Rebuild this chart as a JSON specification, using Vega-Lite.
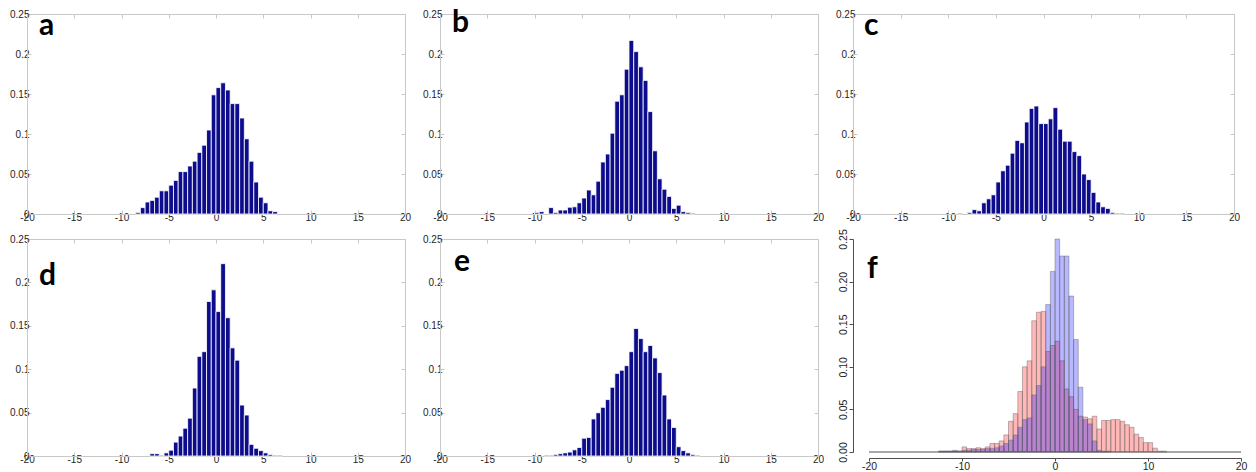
{
  "$schema": "https://vega.github.io/schema/vega-lite/v6.json",
  "background": "white",
  "padding": {"left": 9, "top": 7, "right": 5, "bottom": 0},
  "bounds": "flush",
  "columns": 3,
  "spacing": {"row": 25, "column": 35},
  "datasets": {
    "a": [
      {"lo": -8.5, "hi": -8, "density": 0.002}, {"lo": -8, "hi": -7.5, "density": 0.008},
      {"lo": -7.5, "hi": -7, "density": 0.015}, {"lo": -7, "hi": -6.5, "density": 0.017},
      {"lo": -6.5, "hi": -6, "density": 0.021}, {"lo": -6, "hi": -5.5, "density": 0.029},
      {"lo": -5.5, "hi": -5, "density": 0.029}, {"lo": -5, "hi": -4.5, "density": 0.036},
      {"lo": -4.5, "hi": -4, "density": 0.042}, {"lo": -4, "hi": -3.5, "density": 0.053},
      {"lo": -3.5, "hi": -3, "density": 0.053}, {"lo": -3, "hi": -2.5, "density": 0.06},
      {"lo": -2.5, "hi": -2, "density": 0.066}, {"lo": -2, "hi": -1.5, "density": 0.077},
      {"lo": -1.5, "hi": -1, "density": 0.086}, {"lo": -1, "hi": -0.5, "density": 0.105},
      {"lo": -0.5, "hi": 0, "density": 0.149}, {"lo": 0, "hi": 0.5, "density": 0.158},
      {"lo": 0.5, "hi": 1, "density": 0.164}, {"lo": 1, "hi": 1.5, "density": 0.155},
      {"lo": 1.5, "hi": 2, "density": 0.138}, {"lo": 2, "hi": 2.5, "density": 0.138},
      {"lo": 2.5, "hi": 3, "density": 0.12}, {"lo": 3, "hi": 3.5, "density": 0.094},
      {"lo": 3.5, "hi": 4, "density": 0.066}, {"lo": 4, "hi": 4.5, "density": 0.04},
      {"lo": 4.5, "hi": 5, "density": 0.021}, {"lo": 5, "hi": 5.5, "density": 0.014},
      {"lo": 5.5, "hi": 6, "density": 0.004}, {"lo": 6, "hi": 6.5, "density": 0.003}
    ],
    "b": [
      {"lo": -10, "hi": -9.5, "density": 0.002}, {"lo": -9.5, "hi": -9, "density": 0.003},
      {"lo": -8.5, "hi": -8, "density": 0.008}, {"lo": -8, "hi": -7.5, "density": 0.002},
      {"lo": -7.5, "hi": -7, "density": 0.005}, {"lo": -7, "hi": -6.5, "density": 0.005},
      {"lo": -6.5, "hi": -6, "density": 0.0085}, {"lo": -6, "hi": -5.5, "density": 0.009},
      {"lo": -5.5, "hi": -5, "density": 0.014}, {"lo": -5, "hi": -4.5, "density": 0.02},
      {"lo": -4.5, "hi": -4, "density": 0.03}, {"lo": -4, "hi": -3.5, "density": 0.024},
      {"lo": -3.5, "hi": -3, "density": 0.041}, {"lo": -3, "hi": -2.5, "density": 0.065},
      {"lo": -2.5, "hi": -2, "density": 0.075}, {"lo": -2, "hi": -1.5, "density": 0.101},
      {"lo": -1.5, "hi": -1, "density": 0.141}, {"lo": -1, "hi": -0.5, "density": 0.149},
      {"lo": -0.5, "hi": 0, "density": 0.181}, {"lo": 0, "hi": 0.5, "density": 0.217},
      {"lo": 0.5, "hi": 1, "density": 0.203}, {"lo": 1, "hi": 1.5, "density": 0.184},
      {"lo": 1.5, "hi": 2, "density": 0.167}, {"lo": 2, "hi": 2.5, "density": 0.128},
      {"lo": 2.5, "hi": 3, "density": 0.079}, {"lo": 3, "hi": 3.5, "density": 0.044},
      {"lo": 3.5, "hi": 4, "density": 0.031}, {"lo": 4, "hi": 4.5, "density": 0.022},
      {"lo": 4.5, "hi": 5, "density": 0.007}, {"lo": 5, "hi": 5.5, "density": 0.011},
      {"lo": 5.5, "hi": 6, "density": 0.003}, {"lo": 6, "hi": 6.5, "density": 0.002},
      {"lo": 6.5, "hi": 7, "density": 0.001}
    ],
    "c": [
      {"lo": -9, "hi": -8.5, "density": 0.001}, {"lo": -8, "hi": -7.5, "density": 0.002},
      {"lo": -7.5, "hi": -7, "density": 0.0055}, {"lo": -7, "hi": -6.5, "density": 0.004},
      {"lo": -6.5, "hi": -6, "density": 0.014}, {"lo": -6, "hi": -5.5, "density": 0.019},
      {"lo": -5.5, "hi": -5, "density": 0.024}, {"lo": -5, "hi": -4.5, "density": 0.04},
      {"lo": -4.5, "hi": -4, "density": 0.054}, {"lo": -4, "hi": -3.5, "density": 0.061},
      {"lo": -3.5, "hi": -3, "density": 0.076}, {"lo": -3, "hi": -2.5, "density": 0.092},
      {"lo": -2.5, "hi": -2, "density": 0.089}, {"lo": -2, "hi": -1.5, "density": 0.115},
      {"lo": -1.5, "hi": -1, "density": 0.132}, {"lo": -1, "hi": -0.5, "density": 0.135},
      {"lo": -0.5, "hi": 0, "density": 0.113}, {"lo": 0, "hi": 0.5, "density": 0.113},
      {"lo": 0.5, "hi": 1, "density": 0.119}, {"lo": 1, "hi": 1.5, "density": 0.133},
      {"lo": 1.5, "hi": 2, "density": 0.106}, {"lo": 2, "hi": 2.5, "density": 0.091},
      {"lo": 2.5, "hi": 3, "density": 0.091}, {"lo": 3, "hi": 3.5, "density": 0.078},
      {"lo": 3.5, "hi": 4, "density": 0.073}, {"lo": 4, "hi": 4.5, "density": 0.05},
      {"lo": 4.5, "hi": 5, "density": 0.043}, {"lo": 5, "hi": 5.5, "density": 0.027},
      {"lo": 5.5, "hi": 6, "density": 0.015}, {"lo": 6, "hi": 6.5, "density": 0.009},
      {"lo": 6.5, "hi": 7, "density": 0.007}, {"lo": 7, "hi": 7.5, "density": 0.002},
      {"lo": 7.5, "hi": 8, "density": 0.001}, {"lo": 8, "hi": 8.5, "density": 0.001}
    ],
    "d": [
      {"lo": -7, "hi": -6.5, "density": 0.0027}, {"lo": -6.5, "hi": -6, "density": 0.0027},
      {"lo": -6, "hi": -5.5, "density": 0.0009}, {"lo": -5.5, "hi": -5, "density": 0.0036},
      {"lo": -5, "hi": -4.5, "density": 0.0067}, {"lo": -4.5, "hi": -4, "density": 0.016},
      {"lo": -4, "hi": -3.5, "density": 0.023}, {"lo": -3.5, "hi": -3, "density": 0.032},
      {"lo": -3, "hi": -2.5, "density": 0.0436}, {"lo": -2.5, "hi": -2, "density": 0.0783},
      {"lo": -2, "hi": -1.5, "density": 0.1148}, {"lo": -1.5, "hi": -1, "density": 0.1202},
      {"lo": -1, "hi": -0.5, "density": 0.178}, {"lo": -0.5, "hi": 0, "density": 0.1914},
      {"lo": 0, "hi": 0.5, "density": 0.1664}, {"lo": 0.5, "hi": 1, "density": 0.2216},
      {"lo": 1, "hi": 1.5, "density": 0.1593}, {"lo": 1.5, "hi": 2, "density": 0.1246},
      {"lo": 2, "hi": 2.5, "density": 0.1104}, {"lo": 2.5, "hi": 3, "density": 0.0587},
      {"lo": 3, "hi": 3.5, "density": 0.0472}, {"lo": 3.5, "hi": 4, "density": 0.0134},
      {"lo": 4, "hi": 4.5, "density": 0.0089}, {"lo": 4.5, "hi": 5, "density": 0.0062},
      {"lo": 5, "hi": 5.5, "density": 0.0036}, {"lo": 5.5, "hi": 6, "density": 0.0018},
      {"lo": 6, "hi": 6.5, "density": 0.0009}, {"lo": 6.5, "hi": 7, "density": 0.0009}
    ],
    "e": [
      {"lo": -9, "hi": -8.5, "density": 0.0009}, {"lo": -8.5, "hi": -8, "density": 0.0009},
      {"lo": -8, "hi": -7.5, "density": 0.0018}, {"lo": -7.5, "hi": -7, "density": 0.0027},
      {"lo": -7, "hi": -6.5, "density": 0.0036}, {"lo": -6.5, "hi": -6, "density": 0.0045},
      {"lo": -6, "hi": -5.5, "density": 0.0071}, {"lo": -5.5, "hi": -5, "density": 0.0098},
      {"lo": -5, "hi": -4.5, "density": 0.0205}, {"lo": -4.5, "hi": -4, "density": 0.0214},
      {"lo": -4, "hi": -3.5, "density": 0.0427}, {"lo": -3.5, "hi": -3, "density": 0.0498},
      {"lo": -3, "hi": -2.5, "density": 0.0561}, {"lo": -2.5, "hi": -2, "density": 0.065},
      {"lo": -2, "hi": -1.5, "density": 0.0792}, {"lo": -1.5, "hi": -1, "density": 0.0952},
      {"lo": -1, "hi": -0.5, "density": 0.0988}, {"lo": -0.5, "hi": 0, "density": 0.1041},
      {"lo": 0, "hi": 0.5, "density": 0.1202}, {"lo": 0.5, "hi": 1, "density": 0.1469},
      {"lo": 1, "hi": 1.5, "density": 0.1353}, {"lo": 1.5, "hi": 2, "density": 0.1202},
      {"lo": 2, "hi": 2.5, "density": 0.1273}, {"lo": 2.5, "hi": 3, "density": 0.113},
      {"lo": 3, "hi": 3.5, "density": 0.0961}, {"lo": 3.5, "hi": 4, "density": 0.0703},
      {"lo": 4, "hi": 4.5, "density": 0.0427}, {"lo": 4.5, "hi": 5, "density": 0.0329},
      {"lo": 5, "hi": 5.5, "density": 0.0107}, {"lo": 5.5, "hi": 6, "density": 0.0062},
      {"lo": 6, "hi": 6.5, "density": 0.0036}, {"lo": 6.5, "hi": 7, "density": 0.0018},
      {"lo": 7, "hi": 7.5, "density": 0.0009}
    ],
    "f_base": [{"lo": -20, "hi": 20, "density": 0}],
    "f_red": [
      {"lo": -12.5, "hi": -12, "density": 0.001}, {"lo": -12, "hi": -11.5, "density": 0.001},
      {"lo": -11.5, "hi": -11, "density": 0.001}, {"lo": -11, "hi": -10.5, "density": 0.001},
      {"lo": -10.5, "hi": -10, "density": 0.001}, {"lo": -10, "hi": -9.5, "density": 0.006},
      {"lo": -9.5, "hi": -9, "density": 0.004}, {"lo": -9, "hi": -8.5, "density": 0.004},
      {"lo": -8.5, "hi": -8, "density": 0.005}, {"lo": -8, "hi": -7.5, "density": 0.004},
      {"lo": -7.5, "hi": -7, "density": 0.006}, {"lo": -7, "hi": -6.5, "density": 0.01},
      {"lo": -6.5, "hi": -6, "density": 0.01}, {"lo": -6, "hi": -5.5, "density": 0.013},
      {"lo": -5.5, "hi": -5, "density": 0.02}, {"lo": -5, "hi": -4.5, "density": 0.036},
      {"lo": -4.5, "hi": -4, "density": 0.045}, {"lo": -4, "hi": -3.5, "density": 0.071},
      {"lo": -3.5, "hi": -3, "density": 0.1}, {"lo": -3, "hi": -2.5, "density": 0.107},
      {"lo": -2.5, "hi": -2, "density": 0.154}, {"lo": -2, "hi": -1.5, "density": 0.164},
      {"lo": -1.5, "hi": -1, "density": 0.165}, {"lo": -1, "hi": -0.5, "density": 0.118},
      {"lo": -0.5, "hi": 0, "density": 0.125}, {"lo": 0, "hi": 0.5, "density": 0.13},
      {"lo": 0.5, "hi": 1, "density": 0.107}, {"lo": 1, "hi": 1.5, "density": 0.074},
      {"lo": 1.5, "hi": 2, "density": 0.065}, {"lo": 2, "hi": 2.5, "density": 0.05},
      {"lo": 2.5, "hi": 3, "density": 0.042}, {"lo": 3, "hi": 3.5, "density": 0.041},
      {"lo": 3.5, "hi": 4, "density": 0.039}, {"lo": 4, "hi": 4.5, "density": 0.042},
      {"lo": 4.5, "hi": 5, "density": 0.027}, {"lo": 5, "hi": 5.5, "density": 0.037},
      {"lo": 5.5, "hi": 6, "density": 0.037}, {"lo": 6, "hi": 6.5, "density": 0.038},
      {"lo": 6.5, "hi": 7, "density": 0.038}, {"lo": 7, "hi": 7.5, "density": 0.036},
      {"lo": 7.5, "hi": 8, "density": 0.032}, {"lo": 8, "hi": 8.5, "density": 0.029},
      {"lo": 8.5, "hi": 9, "density": 0.021}, {"lo": 9, "hi": 9.5, "density": 0.017},
      {"lo": 9.5, "hi": 10, "density": 0.011}, {"lo": 10, "hi": 10.5, "density": 0.011},
      {"lo": 10.5, "hi": 11, "density": 0.0045}, {"lo": 11, "hi": 11.5, "density": 0.001},
      {"lo": 11.5, "hi": 12, "density": 0.001}
    ],
    "f_blue": [
      {"lo": -12.5, "hi": -12, "density": 0.001}, {"lo": -12, "hi": -11.5, "density": 0.001},
      {"lo": -11.5, "hi": -11, "density": 0.001}, {"lo": -11, "hi": -10.5, "density": 0.002},
      {"lo": -10.5, "hi": -10, "density": 0.001}, {"lo": -10, "hi": -9.5, "density": 0.002},
      {"lo": -9.5, "hi": -9, "density": 0.002}, {"lo": -9, "hi": -8.5, "density": 0.003},
      {"lo": -8.5, "hi": -8, "density": 0.003}, {"lo": -8, "hi": -7.5, "density": 0.003},
      {"lo": -7.5, "hi": -7, "density": 0.004}, {"lo": -7, "hi": -6.5, "density": 0.004},
      {"lo": -6.5, "hi": -6, "density": 0.005}, {"lo": -6, "hi": -5.5, "density": 0.007},
      {"lo": -5.5, "hi": -5, "density": 0.01}, {"lo": -5, "hi": -4.5, "density": 0.014},
      {"lo": -4.5, "hi": -4, "density": 0.02}, {"lo": -4, "hi": -3.5, "density": 0.029},
      {"lo": -3.5, "hi": -3, "density": 0.038}, {"lo": -3, "hi": -2.5, "density": 0.04},
      {"lo": -2.5, "hi": -2, "density": 0.067}, {"lo": -2, "hi": -1.5, "density": 0.078},
      {"lo": -1.5, "hi": -1, "density": 0.1}, {"lo": -1, "hi": -0.5, "density": 0.173},
      {"lo": -0.5, "hi": 0, "density": 0.212}, {"lo": 0, "hi": 0.5, "density": 0.25},
      {"lo": 0.5, "hi": 1, "density": 0.23}, {"lo": 1, "hi": 1.5, "density": 0.23},
      {"lo": 1.5, "hi": 2, "density": 0.183}, {"lo": 2, "hi": 2.5, "density": 0.132},
      {"lo": 2.5, "hi": 3, "density": 0.076}, {"lo": 3, "hi": 3.5, "density": 0.038},
      {"lo": 3.5, "hi": 4, "density": 0.033}, {"lo": 4, "hi": 4.5, "density": 0.013},
      {"lo": 4.5, "hi": 5, "density": 0.002}, {"lo": 5, "hi": 5.5, "density": 0.001},
      {"lo": 5.5, "hi": 6, "density": 0.001}
    ]
  },
  "concat": [
    {
      "width": 378, "height": 200,
      "title": {"text": "a", "offset": -32, "dx": 12},
      "data": {"name": "a"},
      "resolve": {"axis": {"x": "independent", "y": "independent"}},
      "layer": [
        {
          "mark": {"type": "bar", "fill": "#0c0c8c", "stroke": "#ffffff", "strokeWidth": 0.8},
          "encoding": {
            "x": {"field": "lo", "type": "quantitative", "title": null, "scale": {"domain": [-20, 20], "nice": false, "zero": false}, "axis": {"values": [-20, -15, -10, -5, 0, 5, 10, 15, 20], "labelExpr": "datum.value + ''"}},
            "x2": {"field": "hi"},
            "y": {"field": "density", "type": "quantitative", "title": null, "scale": {"domain": [0, 0.25], "nice": false}, "axis": {"values": [0, 0.05, 0.1, 0.15, 0.2, 0.25], "labelExpr": "datum.value + ''"}},
            "y2": {"datum": 0}
          }
        },
        {
          "mark": {"type": "point", "opacity": 0},
          "encoding": {
            "x": {"field": "lo", "type": "quantitative", "title": null, "axis": {"orient": "top", "labels": false, "domain": false, "values": [-20, -15, -10, -5, 0, 5, 10, 15, 20]}},
            "y": {"field": "density", "type": "quantitative", "title": null, "axis": {"orient": "right", "labels": false, "domain": false, "values": [0, 0.05, 0.1, 0.15, 0.2, 0.25]}}
          }
        }
      ]
    },
    {
      "width": 378, "height": 200,
      "title": {"text": "b", "offset": -29, "dx": 12},
      "data": {"name": "b"},
      "resolve": {"axis": {"x": "independent", "y": "independent"}},
      "layer": [
        {
          "mark": {"type": "bar", "fill": "#0c0c8c", "stroke": "#ffffff", "strokeWidth": 0.8},
          "encoding": {
            "x": {"field": "lo", "type": "quantitative", "title": null, "scale": {"domain": [-20, 20], "nice": false, "zero": false}, "axis": {"values": [-20, -15, -10, -5, 0, 5, 10, 15, 20], "labelExpr": "datum.value + ''"}},
            "x2": {"field": "hi"},
            "y": {"field": "density", "type": "quantitative", "title": null, "scale": {"domain": [0, 0.25], "nice": false}, "axis": {"values": [0, 0.05, 0.1, 0.15, 0.2, 0.25], "labelExpr": "datum.value + ''"}},
            "y2": {"datum": 0}
          }
        },
        {
          "mark": {"type": "point", "opacity": 0},
          "encoding": {
            "x": {"field": "lo", "type": "quantitative", "title": null, "axis": {"orient": "top", "labels": false, "domain": false, "values": [-20, -15, -10, -5, 0, 5, 10, 15, 20]}},
            "y": {"field": "density", "type": "quantitative", "title": null, "axis": {"orient": "right", "labels": false, "domain": false, "values": [0, 0.05, 0.1, 0.15, 0.2, 0.25]}}
          }
        }
      ]
    },
    {
      "width": 381, "height": 200,
      "title": {"text": "c", "offset": -32, "dx": 11},
      "data": {"name": "c"},
      "resolve": {"axis": {"x": "independent", "y": "independent"}},
      "layer": [
        {
          "mark": {"type": "bar", "fill": "#0c0c8c", "stroke": "#ffffff", "strokeWidth": 0.8},
          "encoding": {
            "x": {"field": "lo", "type": "quantitative", "title": null, "scale": {"domain": [-20, 20], "nice": false, "zero": false}, "axis": {"values": [-20, -15, -10, -5, 0, 5, 10, 15, 20], "labelExpr": "datum.value + ''"}},
            "x2": {"field": "hi"},
            "y": {"field": "density", "type": "quantitative", "title": null, "scale": {"domain": [0, 0.25], "nice": false}, "axis": {"values": [0, 0.05, 0.1, 0.15, 0.2, 0.25], "labelExpr": "datum.value + ''"}},
            "y2": {"datum": 0}
          }
        },
        {
          "mark": {"type": "point", "opacity": 0},
          "encoding": {
            "x": {"field": "lo", "type": "quantitative", "title": null, "axis": {"orient": "top", "labels": false, "domain": false, "values": [-20, -15, -10, -5, 0, 5, 10, 15, 20]}},
            "y": {"field": "density", "type": "quantitative", "title": null, "axis": {"orient": "right", "labels": false, "domain": false, "values": [0, 0.05, 0.1, 0.15, 0.2, 0.25]}}
          }
        }
      ]
    },
    {
      "width": 378, "height": 217,
      "title": {"text": "d", "offset": -57, "dx": 12},
      "data": {"name": "d"},
      "resolve": {"axis": {"x": "independent", "y": "independent"}},
      "layer": [
        {
          "mark": {"type": "bar", "fill": "#0c0c8c", "stroke": "#ffffff", "strokeWidth": 0.8},
          "encoding": {
            "x": {"field": "lo", "type": "quantitative", "title": null, "scale": {"domain": [-20, 20], "nice": false, "zero": false}, "axis": {"values": [-20, -15, -10, -5, 0, 5, 10, 15, 20], "labelExpr": "datum.value + ''"}},
            "x2": {"field": "hi"},
            "y": {"field": "density", "type": "quantitative", "title": null, "scale": {"domain": [0, 0.25], "nice": false}, "axis": {"values": [0, 0.05, 0.1, 0.15, 0.2, 0.25], "labelExpr": "datum.value + ''"}},
            "y2": {"datum": 0}
          }
        },
        {
          "mark": {"type": "point", "opacity": 0},
          "encoding": {
            "x": {"field": "lo", "type": "quantitative", "title": null, "axis": {"orient": "top", "labels": false, "domain": false, "values": [-20, -15, -10, -5, 0, 5, 10, 15, 20]}},
            "y": {"field": "density", "type": "quantitative", "title": null, "axis": {"orient": "right", "labels": false, "domain": false, "values": [0, 0.05, 0.1, 0.15, 0.2, 0.25]}}
          }
        }
      ]
    },
    {
      "width": 378, "height": 217,
      "title": {"text": "e", "offset": -43, "dx": 14},
      "data": {"name": "e"},
      "resolve": {"axis": {"x": "independent", "y": "independent"}},
      "layer": [
        {
          "mark": {"type": "bar", "fill": "#0c0c8c", "stroke": "#ffffff", "strokeWidth": 0.8},
          "encoding": {
            "x": {"field": "lo", "type": "quantitative", "title": null, "scale": {"domain": [-20, 20], "nice": false, "zero": false}, "axis": {"values": [-20, -15, -10, -5, 0, 5, 10, 15, 20], "labelExpr": "datum.value + ''"}},
            "x2": {"field": "hi"},
            "y": {"field": "density", "type": "quantitative", "title": null, "scale": {"domain": [0, 0.25], "nice": false}, "axis": {"values": [0, 0.05, 0.1, 0.15, 0.2, 0.25], "labelExpr": "datum.value + ''"}},
            "y2": {"datum": 0}
          }
        },
        {
          "mark": {"type": "point", "opacity": 0},
          "encoding": {
            "x": {"field": "lo", "type": "quantitative", "title": null, "axis": {"orient": "top", "labels": false, "domain": false, "values": [-20, -15, -10, -5, 0, 5, 10, 15, 20]}},
            "y": {"field": "density", "type": "quantitative", "title": null, "axis": {"orient": "right", "labels": false, "domain": false, "values": [0, 0.05, 0.1, 0.15, 0.2, 0.25]}}
          }
        }
      ]
    },
    {
      "width": 388, "height": 219,
      "view": {"stroke": null},
      "title": {"text": "f", "offset": -55, "dx": 14},
      "encoding": {
        "x": {"field": "lo", "type": "quantitative", "title": null, "scale": {"domain": [-20, 20], "range": [16, 388], "nice": false, "zero": false}, "axis": {"values": [-20, -10, 0, 10, 20], "labelExpr": "datum.value + ''", "domainColor": "#4d4d4d", "tickColor": "#4d4d4d", "tickSize": 3, "labelFontSize": 10.5, "labelPadding": 0}},
        "x2": {"field": "hi"},
        "y": {"field": "density", "type": "quantitative", "title": null, "scale": {"domain": [0, 0.25], "range": [213, 0], "nice": false}, "axis": {"values": [0, 0.05, 0.1, 0.15, 0.2, 0.25], "format": ".2f", "labelAngle": 270, "labelAlign": "center", "labelBaseline": "bottom", "domainColor": "#4d4d4d", "tickColor": "#4d4d4d", "tickSize": 4, "labelFontSize": 10.5, "labelPadding": 1}}
      },
      "layer": [
        {"data": {"name": "f_base"}, "mark": {"type": "rule", "color": "#505050", "strokeWidth": 1}, "encoding": {}},
        {"data": {"name": "f_red"}, "mark": {"type": "bar", "fill": "#ff0000", "fillOpacity": 0.28, "stroke": "#666666", "strokeWidth": 0.45}, "encoding": {"y2": {"datum": 0}}},
        {"data": {"name": "f_blue"}, "mark": {"type": "bar", "fill": "#0000ff", "fillOpacity": 0.28, "stroke": "#666666", "strokeWidth": 0.45}, "encoding": {"y2": {"datum": 0}}}
      ]
    }
  ],
  "config": {
    "view": {"stroke": "#c8c8c8", "strokeWidth": 1},
    "axis": {"labelFont": "Liberation Sans", "labelFontSize": 10, "labelColor": "#1e1e1e", "domainColor": "#c8c8c8", "tickColor": "#c8c8c8", "tickSize": -4, "labelPadding": 2, "grid": false, "labelFlush": false, "labelOverlap": false, "labelBound": false},
    "title": {"font": "Lato", "fontSize": 30, "fontWeight": "bold", "color": "#000000", "anchor": "start", "frame": "group", "baseline": "alphabetic"}
  }
}
